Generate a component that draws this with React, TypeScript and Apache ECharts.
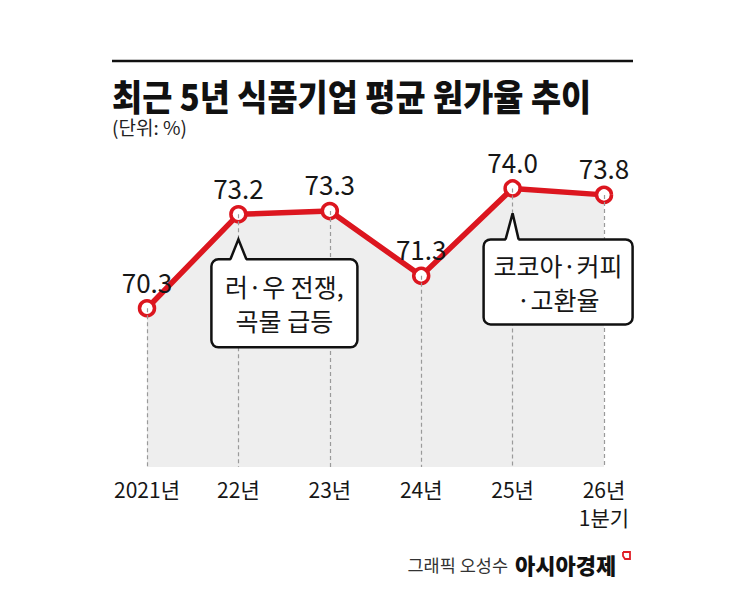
import React, { useEffect, useRef } from "react";
import * as echarts from "echarts";

const categories = ["2021년", "22년", "23년", "24년", "25년", "26년\n1분기"];
const costRatio = [70.3, 73.2, 73.3, 71.3, 74.0, 73.8];
const yMin = 65.4;
const yMax = 75;

const titleText = "최근 5년 식품기업 평균 원가율 추이";
const unitText = "(단위: %)";
const creditText = "그래픽 오성수";
const brandText = "아시아경제";

const callouts = [
  { index: 1, lines: ["러·우 전쟁,", "곡물 급등"] },
  { index: 4, lines: ["코코아·커피", "·고환율"] },
];

const FONT = "'Noto Sans CJK KR', 'Noto Sans', sans-serif";
const RED = "#dc161f";
const INK = "#161616";

export default function App() {
  const ref = useRef<HTMLDivElement>(null);

  useEffect(() => {
    if (!ref.current) return;
    const chart = echarts.init(ref.current, null, { renderer: "svg" });

    chart.setOption({
      animation: false,
      backgroundColor: "#ffffff",
      grid: { left: 147, right: 141, top: 156, bottom: 130 },
      xAxis: {
        type: "category",
        data: categories,
        boundaryGap: false,
        axisLine: { show: false },
        axisTick: { show: false },
        splitLine: { show: false },
        axisLabel: {
          color: INK,
          fontSize: 21,
          fontFamily: FONT,
          lineHeight: 28,
          margin: 8,
          verticalAlign: "top",
        },
      },
      yAxis: {
        type: "value",
        min: yMin,
        max: yMax,
        show: false,
        splitLine: { show: false },
      },
      series: [
        {
          type: "line",
          data: costRatio,
          symbol: "circle",
          symbolSize: 15,
          lineStyle: { color: RED, width: 5.5 },
          itemStyle: { color: "#ffffff", borderColor: RED, borderWidth: 3.5 },
          areaStyle: { color: "#eeeeee", origin: "start", opacity: 1 },
          label: {
            show: true,
            position: "top",
            distance: 5,
            fontSize: 26,
            fontFamily: FONT,
            color: INK,
            formatter: (p: any) => Number(p.value).toFixed(1),
          },
          markLine: {
            silent: true,
            symbol: ["none", "none"],
            label: { show: false },
            lineStyle: { color: "#9a9a9a", width: 1.2, type: [4, 3] },
            data: costRatio.map((v, i) => [
              { coord: [i, v] },
              { coord: [i, yMin] },
            ]),
          },
          z: 3,
        },
      ],
    });

    const graphics: any[] = [
      {
        type: "line",
        shape: { x1: 112, y1: 61, x2: 633, y2: 61 },
        style: { stroke: "#111", lineWidth: 2.5 },
      },
      {
        type: "text",
        x: 112,
        y: 95,
        scaleX: 0.91,
        style: {
          text: titleText,
          fontSize: 36,
          fontWeight: 900,
          fontFamily: FONT,
          fill: "#111",
          verticalAlign: "middle",
        },
      },
      {
        type: "text",
        x: 112,
        y: 126,
        style: {
          text: unitText,
          fontSize: 19,
          fontFamily: FONT,
          fill: "#222",
          verticalAlign: "middle",
        },
      },
      {
        type: "text",
        x: 508,
        y: 564,
        style: {
          text: creditText,
          fontSize: 17.5,
          fontFamily: FONT,
          fill: "#333",
          align: "right",
          verticalAlign: "middle",
        },
      },
      {
        type: "text",
        x: 515,
        y: 564,
        style: {
          text: brandText,
          fontSize: 22,
          fontWeight: 900,
          fontFamily: FONT,
          fill: "#111",
          verticalAlign: "middle",
        },
      },
      {
        type: "polyline",
        shape: { points: [[623, 552], [630, 552], [630, 559], [625, 559], [623, 556], [623, 552]] },
        style: { stroke: "#e01e26", lineWidth: 1.8, fill: "none" },
      },
    ];

    // Speech-bubble callouts, anchored below their data points
    const boxSpec = [
      { dx: -27, gap: 20, w: 146, h: 88, baseL: -8, baseR: 8 },
      { dx: -29, gap: 26, w: 149, h: 85, baseL: -7, baseR: 6 },
    ];
    callouts.forEach((c, k) => {
      const [px, py] = chart.convertToPixel({ seriesIndex: 0 }, [c.index, costRatio[c.index]]) as number[];
      const s = boxSpec[k];
      const apexY = py + 25;
      const top = apexY + s.gap;
      const left = px + s.dx;
      graphics.push(
        {
          type: "rect",
          z: 10,
          shape: { x: left, y: top, width: s.w, height: s.h, r: 7 },
          style: { fill: "#ffffff", stroke: "#111", lineWidth: 2.5 },
        },
        {
          type: "polygon",
          z: 11,
          shape: { points: [[px + s.baseL, top + 2], [px, apexY], [px + s.baseR, top + 2]] },
          style: { fill: "#ffffff" },
        },
        {
          type: "polyline",
          z: 12,
          shape: { points: [[px + s.baseL, top], [px, apexY], [px + s.baseR, top]] },
          style: { stroke: "#111", lineWidth: 2.5, fill: "none" },
        },
        {
          type: "text",
          z: 12,
          x: left + s.w / 2,
          y: top + s.h / 2,
          style: {
            text: c.lines.join("\n"),
            fontSize: 25,
            lineHeight: 34,
            fontFamily: FONT,
            fill: INK,
            align: "center",
            verticalAlign: "middle",
          },
        }
      );
    });

    chart.setOption({ graphic: graphics });

    return () => chart.dispose();
  }, []);

  return (
    <div
      ref={ref}
      style={{ position: "absolute", left: 0, top: 0, width: 745, height: 597, background: "#fff" }}
    />
  );
}
